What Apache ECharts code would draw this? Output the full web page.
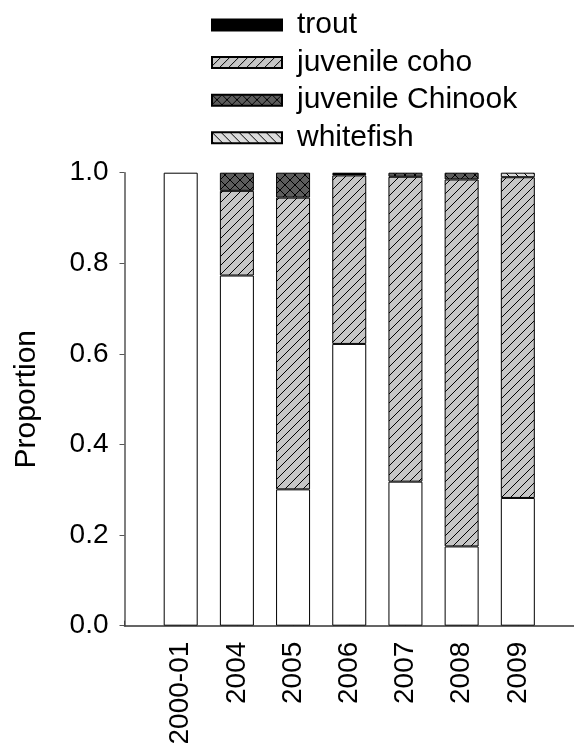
<!DOCTYPE html>
<html>
<head>
<meta charset="utf-8">
<script src="https://cdn.jsdelivr.net/npm/echarts@6/dist/echarts.min.js"></script>
<style>
html,body{margin:0;padding:0;background:#fff;}
#chart{width:574px;height:751px;}
</style>
</head>
<body>
<div id="chart"></div>
<script>
// ---- data ----
var categories = ['', '2000-01', '2004', '2005', '2006', '2007', '2008', '2009', ''];
var otherVals     = [null, 1.000, 0.773, 0.301, 0.622, 0.318, 0.175, 0.282, null];
var cohoVals      = [null, null, 0.187, 0.644, 0.372, 0.673, 0.810, 0.708, null];
var troutVals     = [null, null, null, null, 0.003, null, null, null, null];
var chinookVals   = [null, null, 0.040, 0.055, null, 0.009, 0.015, null, null];
var whitefishVals = [null, null, null, null, 0.003, null, null, 0.010, null];
var yTicks = [0, 0.2, 0.4, 0.6, 0.8, 1.0];

// ---- fill patterns ----
function makePattern(size, bg, draw) {
  var c = document.createElement('canvas');
  c.width = size; c.height = size;
  var g = c.getContext('2d');
  g.fillStyle = bg; g.fillRect(0, 0, size, size);
  g.strokeStyle = '#000'; g.lineWidth = 1;
  draw(g, size);
  return { image: c, repeat: 'repeat' };
}
function fwd(g, s) { // "/"
  g.beginPath();
  g.moveTo(-1, s + 1); g.lineTo(s + 1, -1);
  g.moveTo(-1, 1); g.lineTo(1, -1);
  g.moveTo(s - 1, s + 1); g.lineTo(s + 1, s - 1);
  g.stroke();
}
function back(g, s) { // "\"
  g.beginPath();
  g.moveTo(-1, -1); g.lineTo(s + 1, s + 1);
  g.moveTo(s - 1, -1); g.lineTo(s + 1, 1);
  g.moveTo(-1, s - 1); g.lineTo(1, s + 1);
  g.stroke();
}
var cohoFill = makePattern(9, '#c6c6c6', fwd);
var chinookFill = makePattern(10, '#5c5c5c', function (g, s) { fwd(g, s); back(g, s); });
var whitefishFill = makePattern(9, '#dcdcdc', back);

var FONT = 'Liberation Sans';
var border = { borderColor: '#000', borderWidth: 1 };

function bar(name, data, color) {
  return {
    name: name, type: 'bar', stack: 'total', data: data, barWidth: 34,
    itemStyle: Object.assign({ color: color }, border),
    emphasis: { disabled: true }
  };
}

var chart = echarts.init(document.getElementById('chart'), null, { renderer: 'canvas' });
chart.setOption({
  animation: false,
  backgroundColor: '#fff',
  legend: {
    orient: 'vertical',
    left: 206, top: 4,
    itemWidth: 70, itemHeight: 11, itemGap: 5.6,
    icon: 'rect',
    data: ['trout', 'juvenile coho', 'juvenile Chinook', 'whitefish'],
    textStyle: { fontFamily: FONT, fontSize: 30, color: '#000', lineHeight: 32, padding: [0, 0, 0, 10] }
  },
  grid: { left: 124.5, top: 172.7, height: 453, width: 453.3 },
  xAxis: {
    type: 'category', data: categories, boundaryGap: false,
    axisLine: { lineStyle: { color: '#333', width: 1.5 } },
    axisTick: { inside: true, length: 5, lineStyle: { color: '#444' } },
    axisLabel: { rotate: 90, margin: 16, fontFamily: FONT, fontSize: 28, color: '#000', interval: 0 },
    splitLine: { show: false }
  },
  yAxis: {
    type: 'value', min: yTicks[0], max: yTicks[yTicks.length - 1], interval: 0.2,
    name: 'Proportion', nameLocation: 'middle', nameRotate: 90, nameGap: 83,
    nameTextStyle: { fontFamily: FONT, fontSize: 30, color: '#000' },
    axisLine: { show: true, lineStyle: { color: '#555', width: 1.5 } },
    axisTick: { show: true, length: 5, lineStyle: { color: '#555' } },
    axisLabel: { margin: 16, fontFamily: FONT, fontSize: 28, color: '#000',
      formatter: function (v) { return v.toFixed(1); } },
    splitLine: { show: false }
  },
  series: [
    bar('other', otherVals, '#fff'),
    bar('juvenile coho', cohoVals, cohoFill),
    bar('trout', troutVals, '#000'),
    bar('juvenile Chinook', chinookVals, chinookFill),
    bar('whitefish', whitefishVals, whitefishFill)
  ]
});
</script>
</body>
</html>
